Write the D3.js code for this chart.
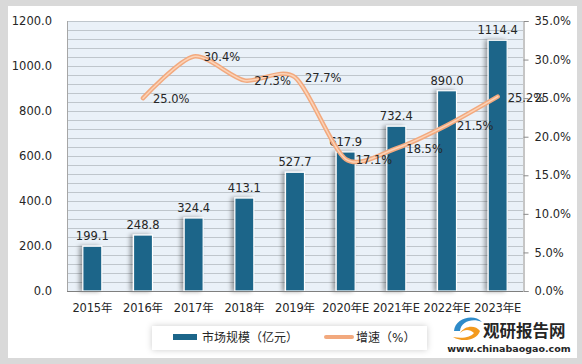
<!DOCTYPE html>
<html>
<head>
<meta charset="utf-8">
<script src="https://cdn.jsdelivr.net/npm/d3@7"></script>
<style>
  body { margin: 0; background: #d9d9d9; }
  svg text { font-family: "DejaVu Sans", "Noto Sans CJK SC", sans-serif; fill: #262626; }
</style>
</head>
<body>
<svg width="582" height="364"></svg>
<script>
'use strict';

// 数据
var years = ['2015年', '2016年', '2017年', '2018年', '2019年', '2020年E', '2021年E', '2022年E', '2023年E'];
var scale = [199.1, 248.8, 324.4, 413.1, 527.7, 617.9, 732.4, 890.0, 1114.4];
var growth = [null, 25.0, 30.4, 27.3, 27.7, 17.1, 18.5, 21.5, 25.2];
var leftTicks = [0, 200, 400, 600, 800, 1000, 1200];
var rightTicks = [0, 5, 10, 15, 20, 25, 30, 35];

var svg = d3.select('svg');
var margin = { left: 67, right: 523, top: 21, bottom: 291 };
var fs = 11.5;

var defs = svg.append('defs');
var shadow = defs.append('filter').attr('id', 'shadow')
  .attr('x', '-50%').attr('y', '-10%').attr('width', '200%').attr('height', '120%');
shadow.append('feDropShadow')
  .attr('dx', -3).attr('dy', 0).attr('stdDeviation', 2)
  .attr('flood-color', '#000').attr('flood-opacity', 0.35);
var boxShadow = defs.append('filter').attr('id', 'boxShadow')
  .attr('x', '-10%').attr('y', '-30%').attr('width', '120%').attr('height', '160%');
boxShadow.append('feDropShadow')
  .attr('dx', 0).attr('dy', 0).attr('stdDeviation', 3)
  .attr('flood-color', '#000').attr('flood-opacity', 0.2);

// 白色底板
svg.append('rect')
  .attr('x', 8).attr('y', 6).attr('width', 569).attr('height', 352)
  .attr('fill', '#fff');

var x = d3.scaleBand().domain(years).range([margin.left, margin.right]);
var y = d3.scaleLinear().domain([0, 1200]).range([margin.bottom, margin.top]);
var y2 = d3.scaleLinear().domain([0, 35]).range([margin.bottom, margin.top]);

// 绘图区背景
svg.append('rect')
  .attr('x', margin.left).attr('y', margin.top)
  .attr('width', margin.right - margin.left).attr('height', margin.bottom - margin.top)
  .attr('fill', '#eaf1f8');

// 网格线
svg.append('g')
  .selectAll('line')
  .data(d3.range(0, 1201, 40))
  .enter()
  .append('line')
  .attr('x1', margin.left).attr('x2', margin.right)
  .attr('y1', function (d) { return Math.round(y(d)) + 0.5; })
  .attr('y2', function (d) { return Math.round(y(d)) + 0.5; })
  .attr('stroke', '#bfc6cc').attr('stroke-width', 1);

// 左边框
svg.append('line')
  .attr('x1', margin.left + 0.5).attr('x2', margin.left + 0.5)
  .attr('y1', margin.top).attr('y2', margin.bottom)
  .attr('stroke', '#a6a6a6');

// 柱子
var barW = 19;
svg.append('g')
  .selectAll('rect')
  .data(scale)
  .enter()
  .append('rect')
  .attr('x', function (d, i) { return x(years[i]) + x.bandwidth() / 2 - barW / 2; })
  .attr('y', function (d) { return y(d); })
  .attr('width', barW)
  .attr('height', function (d) { return margin.bottom - y(d); })
  .attr('fill', '#1b6589')
  .attr('stroke', '#fff').attr('stroke-width', 1.2)
  .attr('filter', 'url(#shadow)');

// 柱标签
svg.append('g')
  .selectAll('text')
  .data(scale)
  .enter()
  .append('text')
  .attr('x', function (d, i) { return x(years[i]) + x.bandwidth() / 2; })
  .attr('y', function (d) { return y(d) - 6; })
  .attr('text-anchor', 'middle')
  .attr('font-size', fs)
  .text(function (d) { return d.toFixed(1); });

// X轴线
svg.append('line')
  .attr('x1', margin.left).attr('x2', margin.right)
  .attr('y1', margin.bottom + 0.5).attr('y2', margin.bottom + 0.5)
  .attr('stroke', '#7f7f7f');

// 左轴
var leftAxis = svg.append('g')
  .attr('transform', 'translate(' + (margin.left - 12) + ',0)')
  .call(d3.axisLeft(y).tickValues(leftTicks).tickSize(0).tickFormat(function (d) { return d.toFixed(1); }));
leftAxis.select('.domain').remove();
leftAxis.selectAll('text').attr('font-size', fs).attr('fill', '#262626')
  .style('font-family', '"DejaVu Sans", sans-serif');

// 右轴
var rightAxis = svg.append('g')
  .attr('transform', 'translate(' + (margin.right + 0.5) + ',0)')
  .call(d3.axisRight(y2).tickValues(rightTicks).tickSize(5).tickPadding(6)
    .tickFormat(function (d) { return d.toFixed(1) + '%'; }));
rightAxis.select('.domain').attr('stroke', '#8c8c8c');
rightAxis.selectAll('.tick line').attr('stroke', '#8c8c8c');
rightAxis.selectAll('text').attr('font-size', fs).attr('fill', '#262626')
  .style('font-family', '"DejaVu Sans", sans-serif');

// X轴标签
svg.append('g')
  .selectAll('text')
  .data(years)
  .enter()
  .append('text')
  .attr('x', function (d) { return x(d) + x.bandwidth() / 2; })
  .attr('y', 312)
  .attr('text-anchor', 'middle')
  .attr('font-size', fs)
  .attr('letter-spacing', -0.2)
  .text(function (d) { return d; });

// 增速曲线
var pts = growth.map(function (g, i) { return { i: i, g: g }; })
  .filter(function (d) { return d.g !== null; });
var line = d3.line()
  .x(function (d) { return x(years[d.i]) + x.bandwidth() / 2; })
  .y(function (d) { return y2(d.g); })
  .curve(d3.curveCardinal.tension(0.2));

svg.append('path').datum(pts)
  .attr('d', line).attr('fill', 'none')
  .attr('stroke', '#f2a97e').attr('stroke-width', 4.5).attr('stroke-linecap', 'round');
svg.append('path').datum(pts)
  .attr('d', line).attr('fill', 'none')
  .attr('stroke', '#fbd3b8').attr('stroke-width', 1.5).attr('stroke-linecap', 'round');

// 增速标签
svg.append('g')
  .selectAll('text')
  .data(pts)
  .enter()
  .append('text')
  .attr('x', function (d) { return x(years[d.i]) + x.bandwidth() / 2 + 10; })
  .attr('y', function (d) { return y2(d.g) + 5; })
  .attr('font-size', fs)
  .text(function (d) { return d.g.toFixed(1) + '%'; });

// 图例
svg.append('rect')
  .attr('x', 152).attr('y', 326).attr('width', 275).attr('height', 24)
  .attr('fill', '#fff').attr('filter', 'url(#boxShadow)');
svg.append('rect')
  .attr('x', 173).attr('y', 334).attr('width', 24).attr('height', 6)
  .attr('fill', '#1b6589');
svg.append('text')
  .attr('x', 202).attr('y', 342).attr('font-size', 12)
  .text('市场规模（亿元）');
svg.append('line')
  .attr('x1', 326).attr('x2', 352).attr('y1', 337).attr('y2', 337)
  .attr('stroke', '#f2a97e').attr('stroke-width', 4).attr('stroke-linecap', 'round');
svg.append('text')
  .attr('x', 356).attr('y', 342).attr('font-size', 12)
  .text('增速（%）');

// 水印
var logo = svg.append('g');
logo.append('path')
  .attr('d', 'M454,331 C455,318 474,313 482,322 C473,318 461,321 460,331 Z')
  .attr('fill', '#2e8bc9');
logo.append('path')
  .attr('d', 'M460,333 C465,325 476,325 480,331 C477,340 463,343 453,337 C463,339 471,337 474,333 C470,329 464,329 460,333 Z')
  .attr('fill', '#f39a1e');
logo.append('text')
  .attr('x', 483).attr('y', 337)
  .attr('font-size', 16.5).attr('font-weight', 'bold')
  .style('font-family', '"Noto Sans CJK SC", sans-serif')
  .attr('fill', '#111')
  .text('观研报告网');
logo.append('text')
  .attr('x', 509).attr('y', 352)
  .attr('text-anchor', 'middle')
  .attr('font-size', 9.5).attr('font-weight', 'bold')
  .attr('fill', '#111')
  .text('www.chinabaogao.com');
</script>
</body>
</html>
